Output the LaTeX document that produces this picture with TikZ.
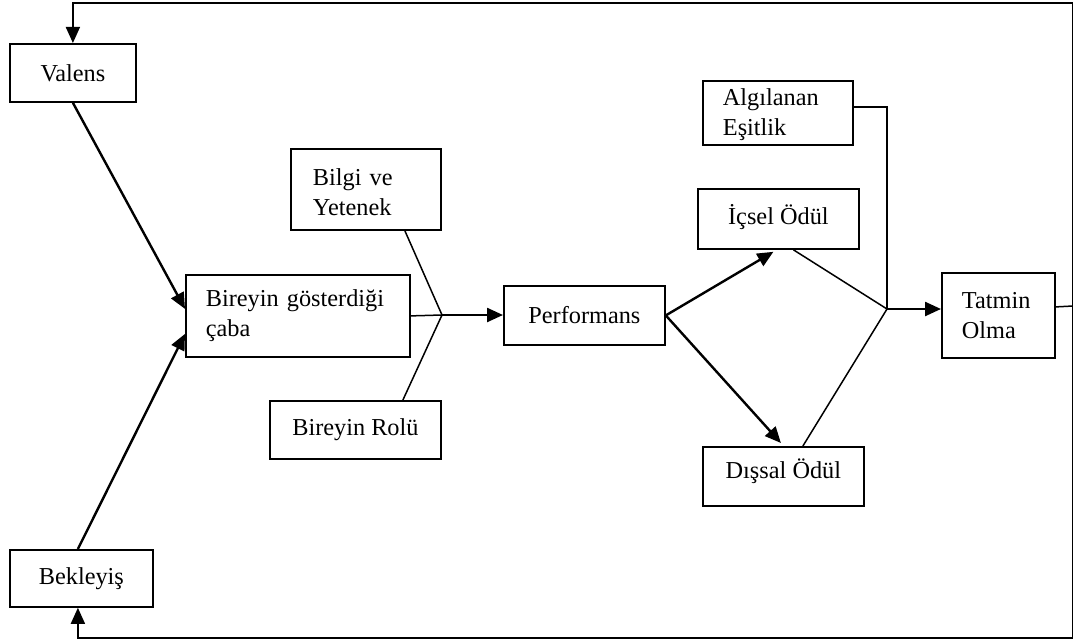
\documentclass[tikz,border=0pt]{standalone}
\usepackage{fontspec}
\setmainfont{Liberation Serif}
\usetikzlibrary{arrows.meta,calc}
\begin{document}
\begin{tikzpicture}[x=1pt,y=-1pt,
  font=\fontsize{24.3}{30}\selectfont,
  box/.style={draw,line width=1.8pt,anchor=north west,inner sep=0pt,align=center},
  lbox/.style={box,align=left,inner xsep=20pt},
  flow/.style={line width=2.4pt,-{Triangle[length=16pt,width=14pt]}},
  feed/.style={line width=1.7pt,-{Triangle[length=16pt,width=14pt]}},
  mergeline/.style={line width=1.5pt}]
\useasboundingbox (0,0) rectangle (1073,642);

% boxes
\node[box,minimum width=126pt,minimum height=58pt] (valens) at (9,43) {Valens};
\node[box,minimum width=143pt,minimum height=57pt] (bekleyis) at (9,549) {Bekleyiş};
\node[lbox,text width=184pt,minimum height=82pt] (caba) at (185,274) {Bireyin gösterdiği\\çaba};
\node[lbox,inner xsep=22pt,text width=106pt,minimum height=81pt] (bilgi) at (290,148) {\raisebox{-3pt}[\height][\depth]{Bilgi ve}\\\raisebox{-3pt}[\height][\depth]{Yetenek}};
\node[box,minimum width=171pt,minimum height=58pt] (rol) at (269,400) {Bireyin Rolü};
\node[box,minimum width=161pt,minimum height=59pt] (perf) at (503,285) {Performans};
\node[box,minimum width=161pt,minimum height=60pt] (icsel) at (697,188) {\raisebox{2pt}[\height][\depth]{İçsel Ödül}};
\node[box,minimum width=161pt,minimum height=59pt] (dissal) at (702,446) {\raisebox{5pt}[\height][\depth]{Dışsal Ödül}};
\node[lbox,text width=110pt,minimum height=64pt] (algi) at (702,80) {\raisebox{-2pt}[\height][\depth]{Algılanan}\\\raisebox{-2pt}[\height][\depth]{Eşitlik}};
\node[lbox,text width=73pt,minimum height=85pt] (tatmin) at (941,272) {Tatmin\\Olma};

% junctions and loop corners
\coordinate (j1) at (442,315);
\coordinate (j2) at (887,309);
\coordinate (rmid) at (1073,306);
\coordinate (rtop) at (1073,3);
\coordinate (rbot) at (1073,638);

% inputs to effort
\draw[flow] (valens.south) -- ([yshift=7pt]caba.west);
\draw[flow] ([xshift=-3.5pt]bekleyis.north) -- ([yshift=-18pt]caba.west);

% effort, ability and role combine into performance
\draw[mergeline] (caba.east) -- (j1);
\draw[mergeline] ([xshift=39pt]bilgi.south) -- (j1);
\draw[mergeline] ([xshift=47.5pt]rol.north) -- (j1);
\draw[flow] (j1) -- (j1 -| perf.west);

% rewards
\draw[flow] (perf.east) -- ([xshift=-5pt,yshift=-2pt]icsel.south);
\draw[flow] (perf.east) -- ([xshift=-2.5pt,yshift=3pt]dissal.north);
\draw[mergeline] ([xshift=15pt]icsel.south) -- (j2);
\draw[mergeline] ([xshift=19.5pt]dissal.north) -- (j2);
\draw[mergeline] ([yshift=6pt]algi.east) -| (j2);
\draw[flow] (j2) -- (j2 -| tatmin.west);

% feedback loops
\draw[mergeline] ([yshift=8.5pt]tatmin.east) -- (rmid);
\draw[feed] (rmid) -- (rtop) -| (valens.north);
\draw[feed] (rmid) -- (rbot) -| ([xshift=-3.5pt]bekleyis.south);
\end{tikzpicture}
\end{document}
